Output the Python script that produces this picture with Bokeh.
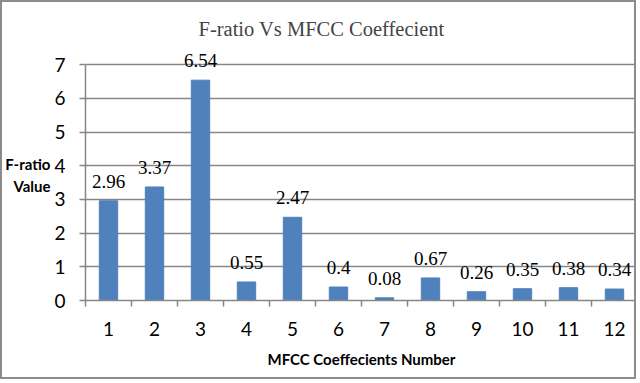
from bokeh.plotting import figure
from bokeh.models import FixedTicker, Range1d, ColumnDataSource, LabelSet
from bokeh.embed import file_html
from bokeh.resources import INLINE

coeffs = list(range(1, 13))
f_ratio = [2.96, 3.37, 6.54, 0.55, 2.47, 0.4, 0.08, 0.67, 0.26, 0.35, 0.38, 0.34]
value_labels = ["2.96", "3.37", "6.54", "0.55", "2.47", "0.4", "0.08", "0.67", "0.26", "0.35", "0.38", "0.34"]
y_ticks = [0, 1, 2, 3, 4, 5, 6, 7]

GRAY = "#868686"
BAR = "#4F81BD"
FONT = "Lato"

p = figure(width=636, height=379, output_backend="svg", toolbar_location=None,
           x_range=Range1d(0.5, 12.5), y_range=Range1d(0, 7.45),
           min_border_left=81, min_border_right=1, min_border_top=47, min_border_bottom=81,
           title="F-ratio Vs MFCC Coeffecient")
p.styles = {"border": "2px solid #8c8c8c"}
p.outline_line_color = None
p.background_fill_color = "white"
p.border_fill_color = "white"

p.title.text_font = "Liberation Serif"
p.title.text_font_size = "20.5px"
p.title.text_font_style = "normal"
p.title.align = "left"
p.title.offset = 113
p.title.standoff = 20

src = ColumnDataSource(dict(x=coeffs, y=f_ratio, lab=value_labels))
p.vbar(x="x", top="y", width=0.4, source=src, fill_color=BAR, line_color=BAR)

labels = LabelSet(x="x", y="y", text="lab", source=src, text_align="center",
                  text_baseline="alphabetic", y_offset=13, text_font=FONT,
                  text_font_size="19px", text_color="black")
p.add_layout(labels)

# x axis
p.xaxis.ticker = FixedTicker(ticks=coeffs, minor_ticks=[c - 0.5 for c in coeffs] + [12.5])
p.xaxis.major_tick_out = 0
p.xaxis.major_tick_in = 0
p.xaxis.minor_tick_out = 6
p.xaxis.minor_tick_in = 0
p.xaxis.minor_tick_line_color = GRAY
p.xaxis.minor_tick_line_width = 1.5
p.xaxis.axis_line_color = GRAY
p.xaxis.axis_line_width = 1.5
p.xaxis.major_label_text_font = FONT
p.xaxis.major_label_text_font_size = "19px"
p.xaxis.major_label_text_color = "black"
p.xaxis.major_label_standoff = 15
p.xaxis.axis_label = "MFCC Coeffecients Number"
p.xaxis.axis_label_text_font = FONT
p.xaxis.axis_label_text_font_size = "15px"
p.xaxis.axis_label_text_font_style = "bold"
p.xaxis.axis_label_text_color = "black"
p.xaxis.axis_label_standoff = 11

# y axis
p.yaxis.ticker = FixedTicker(ticks=y_ticks)
p.yaxis.bounds = (y_ticks[0], y_ticks[-1])
p.yaxis.major_tick_out = 6
p.yaxis.major_tick_in = 0
p.yaxis.major_tick_line_color = GRAY
p.yaxis.major_tick_line_width = 1.5
p.yaxis.minor_tick_line_color = None
p.yaxis.axis_line_color = GRAY
p.yaxis.axis_line_width = 1.5
p.yaxis.major_label_text_font = FONT
p.yaxis.major_label_text_font_size = "19px"
p.yaxis.major_label_text_color = "black"
p.yaxis.major_label_standoff = 14
p.yaxis.axis_label = "F-ratio\nValue"
p.yaxis.axis_label_orientation = "horizontal"
p.yaxis.axis_label_text_font = FONT
p.yaxis.axis_label_text_font_size = "15px"
p.yaxis.axis_label_text_font_style = "bold"
p.yaxis.axis_label_text_color = "black"
p.yaxis.axis_label_standoff = 1

p.xgrid.grid_line_color = None
p.ygrid.ticker = FixedTicker(ticks=y_ticks)
p.ygrid.grid_line_color = GRAY
p.ygrid.grid_line_width = 1.5

open("out.html", "w").write(file_html(p, INLINE))
